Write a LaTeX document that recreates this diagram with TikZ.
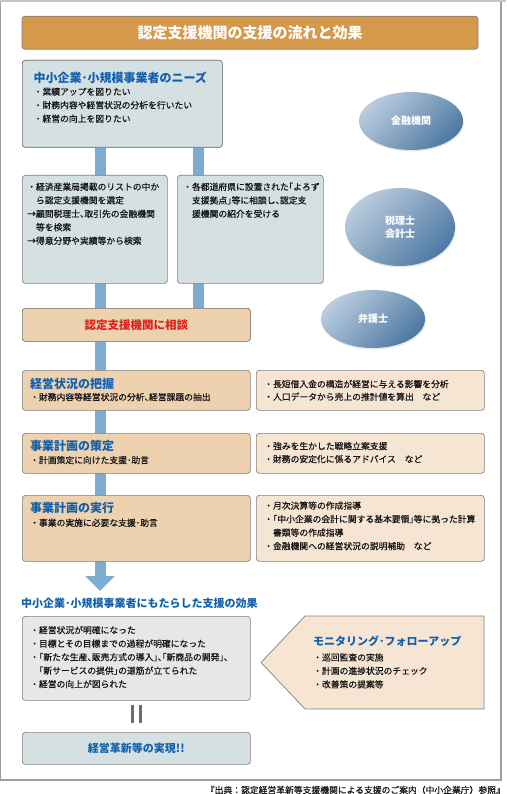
\documentclass[tikz,border=0pt]{standalone}
\usepackage{fontspec}
\setmainfont{Noto Sans CJK JP}
\newfontfamily\jp{Noto Sans CJK JP}
\newfontfamily\jpm{Noto Sans CJK JP}[FakeBold=0.5]
\newfontfamily\jph{Noto Sans CJK JP}[RawFeature=+halt,FakeBold=0.5]
\usetikzlibrary{arrows.meta,shapes.geometric,shadows}

\definecolor{titlefill}{RGB}{212,153,74}
\definecolor{bluegray}{RGB}{213,224,227}
\definecolor{peach}{RGB}{238,210,175}
\definecolor{lightpeach}{RGB}{246,229,211}
\definecolor{effgray}{RGB}{231,231,231}
\definecolor{headblue}{RGB}{18,96,172}
\definecolor{consultred}{RGB}{222,32,30}
\definecolor{barblue}{RGB}{125,172,209}
\definecolor{boxline}{RGB}{128,128,128}
\definecolor{textc}{RGB}{20,20,20}
\definecolor{ovtop}{RGB}{186,204,222}
\definecolor{ovbot}{RGB}{78,121,163}

\newcommand{\bul}{{\jpm ・}}
\newcommand{\ind}{{\jpm 　}}

\begin{document}
\begin{tikzpicture}[x=1pt,y=-1pt,
  box/.style={draw=boxline,line width=0.7pt,rounded corners=3pt,inner sep=0pt,
    minimum width=228pt,anchor=north west},
  txt/.style={font=\fontsize{8.8}{13.5}\selectfont\jph,text=textc,align=left,
    inner sep=0pt,anchor=north west},
  head/.style={font=\fontsize{12}{14}\selectfont\jp\bfseries,text=headblue,
    inner sep=0pt,anchor=west},
  bar/.style={draw=barblue,line width=11pt},
  oval/.style={ellipse,minimum width=104pt,minimum height=58pt,
    top color=ovtop,bottom color=ovbot,shading angle=45,
    drop shadow={opacity=0.2,shadow xshift=0.8pt,shadow yshift=-1.5pt},
    text=white,align=center,font=\fontsize{10}{13}\selectfont\jp\bfseries},
  eqbar/.style={draw=gray!85!black,line width=3pt}]
\useasboundingbox (0,0) rectangle (506,794);

%%%%%%%%% frame
\fill[gray!45] (0,0) rectangle (506,2.5);
\draw[gray!75,line width=1.2pt] (0.6,2) -- (0.6,780) -- (501,780) -- (501,2);
\node[txt,font=\fontsize{8.8}{10}\selectfont\jpm,anchor=east] (source) at (505,790)
  {『出典：認定経営革新等支援機関による支援のご案内（中小企業庁）参照』};

%%%%%%%%% title
\node[draw=boxline,line width=0.7pt,rounded corners=3pt,fill=titlefill,
  minimum width=456pt,minimum height=33pt,text=white,
  font=\fontsize{15}{18}\selectfont\jp\bfseries] (title) at (250,32.7)
  {認定支援機関の支援の流れと効果};

%%%%%%%%% bars (behind the boxes)
\coordinate (bl) at (100,0);
\coordinate (br) at (198.5,0);
\coordinate (tip) at (100,591);

\node[box,fill=bluegray,minimum width=200pt,minimum height=87pt] (needs) at (22,60) {};
\node[box,fill=peach,minimum height=33pt] (consult) at (22,308) {};

\draw[bar,-{Triangle[width=29pt,length=15pt]}] (needs.south -| bl) -- (tip);
\draw[bar] (needs.south -| br) -- (consult.north -| br);

%%%%%%%%% needs
\node[box,fill=bluegray,minimum width=200pt,minimum height=87pt] at (22,60) {};
\node[head] (needs-h) at (33.3,77.5) {中小企業･小規模事業者のニーズ};
\node[txt] (needs-t) at (33.5,87.4) {\bul 業績アップを図りたい\\
  \bul 財務内容や経営状況の分析を行いたい\\
  \bul 経営の向上を図りたい};

\node[box,fill=bluegray,minimum width=145pt,minimum height=108pt] (list) at (22,175) {};
\node[txt] (list-t) at (27,182.5) {\bul 経済産業局掲載のリストの中か\\
  \ind ら認定支援機関を選定\\
  →顧問税理士、取引先の金融機関\\
  \ind 等を検索\\
  →得意分野や実績等から検索};

\node[box,fill=bluegray,minimum width=146pt,minimum height=108pt] (yorozu) at (177,175) {};
\node[txt] (yorozu-t) at (183,182.5) {\bul 各都道府県に設置された「よろず\\
  \ind 支援拠点」等に相談し、認定支\\
  \ind 援機関の紹介を受ける};

%%%%%%%%% experts
\node[oval] (bank) at (411,121) {金融機関};
\node[oval,minimum width=110pt,minimum height=78pt] (tax) at (400,227) {税理士\\会計士};
\node[oval] (lawyer) at (373,319) {弁護士};

%%%%%%%%% consult
\node[box,fill=peach,minimum height=33pt] at (22,308) {};
\node[font=\fontsize{11.5}{14}\selectfont\jp\bfseries,text=consultred] (consult-t)
  at (consult.center) {認定支援機関に相談};

%%%%%%%%% steps
\node[box,fill=peach,minimum height=40pt] (grasp) at (22,370) {};
\node[head] (grasp-h) at (30,384) {経営状況の把握};
\node[txt] (grasp-t) at (30,392.8) {\bul 財務内容等経営状況の分析、経営課題の抽出};
\node[box,fill=lightpeach,minimum height=40pt] (graspR) at (256,370) {};
\node[txt,font=\fontsize{8.8}{12.7}\selectfont\jph] (graspR-t) at (264,379.8)
  {\bul 長短借入金の構造が経営に与える影響を分析\\
  \bul 人口データから売上の推計値を算出　など};

\node[box,fill=peach,minimum height=40pt] (plan) at (22,433) {};
\node[head] (plan-h) at (30,446) {事業計画の策定};
\node[txt] (plan-t) at (30,455.8) {\bul 計画策定に向けた支援･助言};
\node[box,fill=lightpeach,minimum height=40pt] (planR) at (256,433) {};
\node[txt,font=\fontsize{8.8}{13}\selectfont\jph] (planR-t) at (264,441.8)
  {\bul 強みを生かした戦略立案支援\\
  \bul 財務の安定化に係るアドバイス　など};

\node[box,fill=peach,minimum height=66pt] (exec) at (22,495) {};
\node[head] (exec-h) at (30,508.3) {事業計画の実行};
\node[txt] (exec-t) at (30,518.5) {\bul 事業の実施に必要な支援･助言};
\node[box,fill=lightpeach,minimum height=66pt] (execR) at (256,495) {};
\node[txt] (execR-t) at (264,501.3) {\bul 月次決算等の作成指導\\
  \bul 「中小企業の会計に関する基本要領」等に拠った計算\\
  \ind 書類等の作成指導\\
  \bul 金融機関への経営状況の説明補助　など};

%%%%%%%%% effect
\node[head,font=\fontsize{11}{13}\selectfont\jp\bfseries] (effect-h) at (21,603.3)
  {中小企業･小規模事業者にもたらした支援の効果};
\node[box,fill=effgray,minimum height=84pt] (effect) at (22,616) {};
\node[txt] (effect-t) at (30,625.8) {\bul 経営状況が明確になった\\
  \bul 目標とその目標までの過程が明確になった\\
  \bul 「新たな生産、販売方式の導入」、「新商品の開発」、\\
  \ind 「新サービスの提供」の道筋が立てられた\\
  \bul 経営の向上が図られた};

\fill[lightpeach,draw=boxline,line width=0.7pt] (305,616) -- (484,616) -- (484,709)
  -- (305,709) -- (261,662.5) -- cycle;
\node[head,font=\fontsize{11}{13}\selectfont\jp\bfseries] (monitor-h) at (313,641.7)
  {モニタリング･フォローアップ};
\node[txt] (monitor-t) at (313,653.1) {\bul 巡回監査の実施\\
  \bul 計画の進捗状況のチェック\\
  \bul 改善策の提案等};

%%%%%%%%% result
\node[box,fill=bluegray,minimum height=32pt] (final) at (22,732) {};
\node[font=\fontsize{11}{13}\selectfont\jp\bfseries,text=headblue] (final-t)
  at (final.center) {経営革新等の実現!!};

\draw[eqbar] ([xshift=-4pt,yshift=-4pt]effect.south) -- ([xshift=-4pt,yshift=9pt]final.north);
\draw[eqbar] ([xshift=4pt,yshift=-4pt]effect.south) -- ([xshift=4pt,yshift=9pt]final.north);

\end{tikzpicture}
\end{document}
